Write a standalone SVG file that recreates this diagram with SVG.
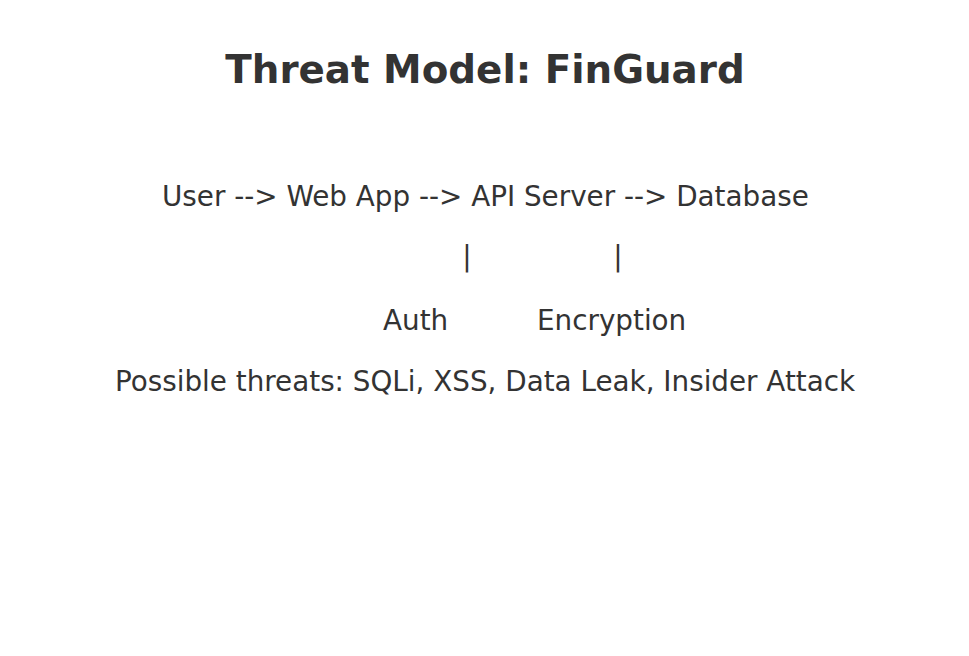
<svg xmlns="http://www.w3.org/2000/svg" width="969" height="656" viewBox="0 0 969 656">
<style>
text{font-family:"DejaVu Sans",sans-serif;fill:#333333;}
.t{font-size:38.8px;font-weight:bold;}
.b{font-size:27.8px;}
</style>
<rect width="969" height="656" fill="#ffffff"/>
<g id="title"><text class="t" x="485" y="83" text-anchor="middle">Threat Model: FinGuard</text></g>
<g id="flow"><text class="b" x="162" y="206">User --&gt; Web App --&gt; API Server --&gt; Database</text></g>
<g id="connectors">
<text class="b" x="467" y="266" text-anchor="middle">|</text>
<text class="b" x="618" y="266" text-anchor="middle">|</text>
</g>
<g id="auth"><text class="b" x="383" y="330">Auth</text></g>
<g id="encryption"><text class="b" x="537" y="330">Encryption</text></g>
<g id="threats"><text class="b" x="115" y="391">Possible threats: SQLi, XSS, Data Leak, Insider Attack</text></g>
</svg>
